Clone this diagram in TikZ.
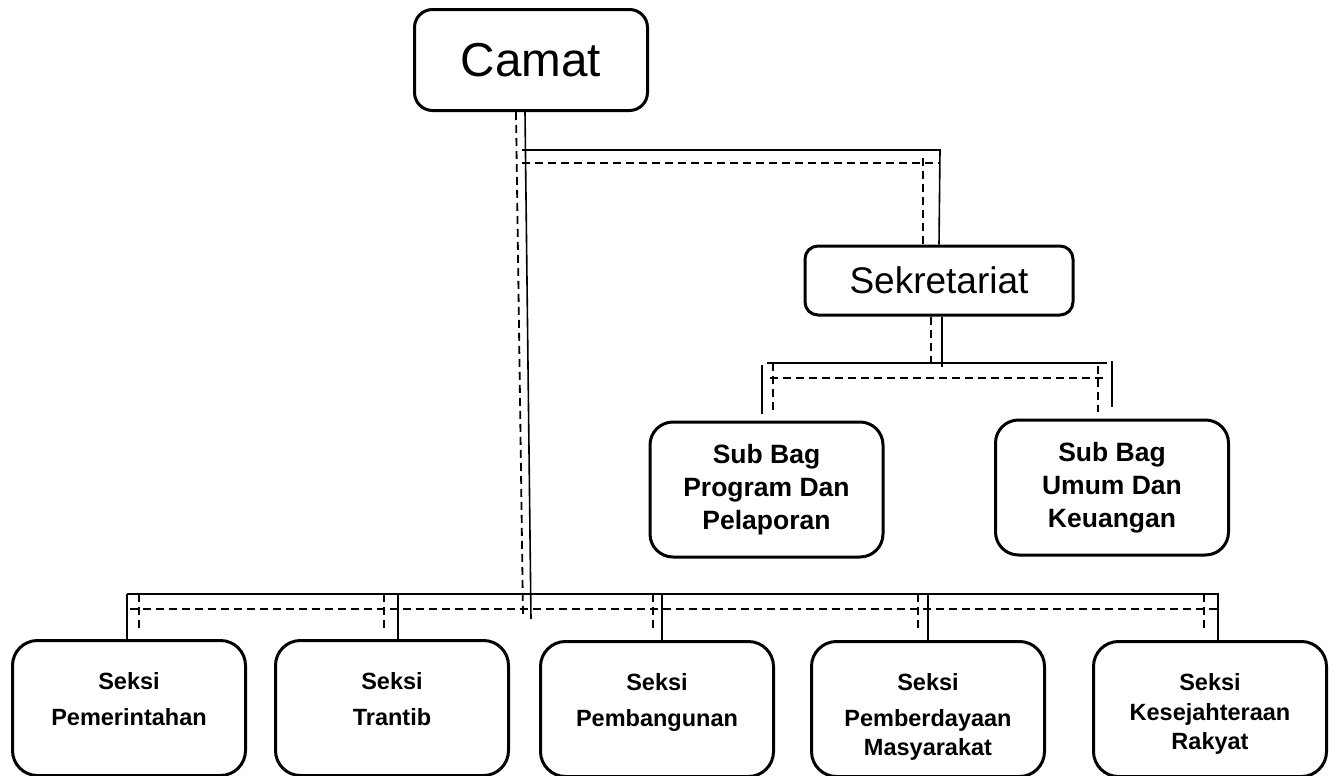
\documentclass[tikz,border=0pt]{standalone}
\usepackage{fontspec}
\setmainfont{Liberation Sans}
\tikzset{
    box/.style={draw=black, line width=1.5pt, fill=white},
    chief/.style={box, rounded corners=9pt, minimum width=116.5pt, minimum height=50.5pt, font=\fontsize{23.8}{28}\selectfont},
    sekbox/.style={box, rounded corners=6.5pt, minimum width=134pt, minimum height=34.5pt, font=\fontsize{18.5}{22}\selectfont},
    subbox/.style={box, rounded corners=11.5pt, minimum width=116.5pt, minimum height=67.5pt, align=center, font=\fontsize{13.25}{16.5}\selectfont\bfseries},
    seksi/.style={box, rounded corners=12.5pt, anchor=north, text width=110pt, align=center, inner xsep=3.25pt, inner ysep=0pt, text height=24.7pt, text depth=42.8pt, font=\fontsize{11.75}{14.5}\selectfont\bfseries},
    link/.style={line width=0.8pt},
    dlink/.style={line width=0.9pt, dash pattern=on 4pt off 2.5pt}
}

\begin{document}
\begin{tikzpicture}[x=0.5pt, y=-0.5pt]
    \useasboundingbox (0,0) rectangle (1334,776);

    \node[chief] (camat) at (531,60) {Camat};
    \node[sekbox] (sekr) at (939,280.5) {Sekretariat};
    \node[subbox] (prog) at (766.5,489.5) {Sub Bag\\Program Dan\\Pelaporan};
    \node[subbox] (umum) at (1112,487.5) {Sub Bag\\Umum Dan\\Keuangan};

    \node[seksi] (pem) at (129,639) {Seksi\\[3.5pt]Pemerintahan};
    \node[seksi] (tra) at (392,639) {Seksi\\[3.5pt]Trantib};
    \node[seksi] (bang) at (657,640) {Seksi\\[3.5pt]Pembangunan};
    \node[seksi] (pmd) at (928,640) {Seksi\\[3.5pt]Pemberdayaan\\Masyarakat};
    \node[seksi] (kesra) at (1210,640) {Seksi\\[0.5pt]Kesejahteraan\\Rakyat};

    % bus ends
    \coordinate (camS) at (531,619);
    \coordinate (camD) at (523,615);
    \coordinate (topL) at (522,150);
    \coordinate (topR) at (940,150);
    \coordinate (topDL) at (522,163);
    \coordinate (topDR) at (940,163);
    \coordinate (subL) at (767,363);
    \coordinate (subR) at (1107,363);
    \coordinate (subDL) at (770,378);
    \coordinate (subDR) at (1107,378);
    \coordinate (botL) at (127,594);
    \coordinate (botR) at (1219,594);
    \coordinate (botDL) at (130,609);
    \coordinate (botDR) at (1219,609);

    % camat down to the seksi line
    \draw[link] (525,0 |- camat.south) -- (camS);
    \draw[dlink] (516,0 |- camat.south) -- (camD);

    % camat to sekretariat
    \draw[link] (topL) -- (topR) -- (sekr.north);
    \draw[dlink] (topDL) -- (topDR);
    \draw[dlink] (923,158) -- (923,0 |- sekr.north);

    % sekretariat to sub bag
    \draw[link] (942,0 |- sekr.south) -- (942,367);
    \draw[dlink] (931,0 |- sekr.south) -- (931,363);
    \draw[link] (subL) -- (subR);
    \draw[dlink] (subDL) -- (subDR);
    \draw[link, shorten >=3.5pt] (762,365) -- (762,0 |- prog.north);
    \draw[dlink, shorten >=3.5pt] (773,363) -- (773,0 |- prog.north);
    \draw[link, shorten >=6pt] (1112,361) -- (1112,0 |- umum.north);
    \draw[dlink, shorten >=3.5pt] (1098,366) -- (1098,0 |- umum.north);

    % seksi line
    \draw[link] (botL) -- (botR);
    \draw[dlink] (botDL) -- (botDR);
    \foreach \n/\sx/\dx in {pem/127/139, tra/398/384, bang/662/653, pmd/928/918, kesra/1218/1204} {
        \draw[link] (\sx,0 |- botL) -- (\sx,0 |- \n.north);
        \draw[dlink, shorten >=4pt] (\dx,0 |- botL) -- (\dx,0 |- \n.north);
    }

\end{tikzpicture}
\end{document}
